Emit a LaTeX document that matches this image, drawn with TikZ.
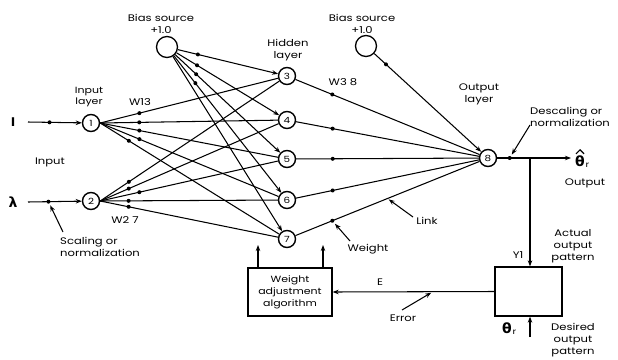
\documentclass[tikz,border=0pt]{standalone}
\usepackage{fontspec}
\setmainfont{Poppins}[FakeStretch=1.22]
\newfontfamily\gr{DejaVu Sans}
\usetikzlibrary{arrows.meta}
\begin{document}
\begin{tikzpicture}[x=1pt,y=-1pt,
  neuron/.style={circle,draw,line width=1.4pt,minimum size=17pt,inner sep=0pt,font=\fontsize{8.5}{9}\selectfont},
  biasnode/.style={circle,draw,line width=1.3pt,minimum size=21pt,inner sep=0pt},
  lbl/.style={font=\fontsize{9.5}{12}\selectfont,inner sep=0pt,align=center},
  link/.style={line width=1.05pt},
  arr/.style={line width=1.05pt,-{Stealth[length=6pt,width=4.5pt]}},
  dot/.style={circle,fill,inner sep=0pt,minimum size=4pt},
  boxnode/.style={draw,line width=1.3pt,inner sep=0pt},
  greek/.style={font=\gr\bfseries\fontsize{14}{14}\selectfont,inner sep=0pt}
]
\useasboundingbox (0,0) rectangle (618,359);
\fill[white] (0,0) rectangle (618,359);

% neurons
\node[neuron] (n1) at (91,123) {1};
\node[neuron] (n2) at (91,201) {2};
\node[neuron] (h3) at (287,76) {3};
\node[neuron] (h4) at (287,120) {4};
\node[neuron] (h5) at (287,159) {5};
\node[neuron] (h6) at (287,200) {6};
\node[neuron] (h7) at (287,239) {7};
\node[neuron] (n8) at (488,158) {8};
\node[biasnode] (b1) at (167,47) {};
\node[biasnode] (b2) at (366,46) {};

% inputs
\node[font=\gr\bfseries\fontsize{12}{12}\selectfont,inner sep=0pt] (inI) at (13,122) {I};
\node[greek] (inL) at (13,202) {λ};
\coordinate (iS) at (28,122);
\coordinate (lS) at (28,202);
\draw[arr] (iS) -- node[dot,pos=0.4] (idot) {} (n1);
\draw[arr] (lS) -- node[dot,pos=0.38] (ldot) {} (n2);

% input -> hidden
\foreach \h/\p in {3/0.22,4/0.22,5/0.22,6/0.22,7/0.16}
  \draw[link] (n1.east) -- node[dot,pos=\p]{} (h\h);
\foreach \h/\p in {3/0.16,4/0.16,5/0.22,6/0.16,7/0.16}
  \draw[link] (n2.east) -- node[dot,pos=\p]{} (h\h);

% bias 1 -> hidden
\foreach \h in {3,4,5,6}
  \draw[arr] (b1) -- node[dot,pos=0.2]{} (h\h);
\draw[arr] (b1) -- (h7);

% hidden -> output
\foreach \h in {3,4,5,6}
  \draw[link] (h\h) -- node[dot,pos=0.2]{} (n8);
\draw[link] (h7) -- node[dot,pos=0.2] (wdot) {} coordinate[pos=0.5] (lkpt) (n8);
\draw[arr] (b2) -- node[dot,pos=0.11]{} (n8);

% output
\node[boxnode,minimum width=67pt,minimum height=49pt] (cmp) at (528.5,291.5) {};
\coordinate (br) at (530,158);
\coordinate (oE) at (571,158);
\draw[link] (n8) -- node[dot,pos=0.38] (odot) {} (br);
\draw[arr] (br) -- (oE);
\draw[arr] (br) -- (br |- cmp.north);
\node[greek] (th1) at (580,161) {θ};
\node[anchor=south west,inner sep=0pt,font=\fontsize{8}{8}\selectfont] (th1r) at ([xshift=0.5pt,yshift=-1pt]th1.south east) {r};
\draw[line width=1.2pt] ([xshift=-4pt,yshift=1.5pt]th1.north) -- ([yshift=5.5pt]th1.north) -- ([xshift=4pt,yshift=1.5pt]th1.north);

\node[greek] (th2) at (507,328) {θ};
\node[anchor=south west,inner sep=0pt,font=\fontsize{8}{8}\selectfont] (th2r) at ([xshift=0.5pt,yshift=-1pt]th2.south east) {r};
\coordinate (tS) at (530,337);
\draw[arr] (tS) -- (tS |- cmp.south);

% weight adjustment
\node[boxnode,minimum width=84pt,minimum height=48pt,align=center,font=\fontsize{9}{12}\selectfont] (wbox) at (290,292) {Weight\\adjustment\\algorithm};
\draw[arr] (cmp.west) -- coordinate[pos=0.38] (epoint) (wbox.east);
\coordinate (wa1) at (258,245);
\coordinate (wa2) at (323,245);
\draw[arr] (wbox.north -| wa1) -- (wa1);
\draw[arr] (wbox.north -| wa2) -- (wa2);

% labels
\node[lbl] (tb1) at (161,23.5) {Bias source\\+1.0};
\node[lbl] (tb2) at (362,23.5) {Bias source\\+1.0};
\node[lbl] (thid) at (288,50) {Hidden\\layer};
\node[lbl,font=\fontsize{9}{11}\selectfont] (tinl) at (89,97.5) {Input\\layer};
\node[lbl] (tout) at (479,94) {Output\\layer};
\node[lbl] (tw13) at (140,102) {W13};
\node[lbl] (tw27) at (125,220) {W2 7};
\node[lbl] (tw38) at (343,82) {W3 8};
\node[lbl] (tin) at (50,162) {Input};
\node[lbl,align=left,anchor=west] (tdesc) at (530,117) {Descaling or\\normalization};
\node[lbl,align=left,anchor=west] (tscal) at (60,247) {Scaling or\\normalization};
\node[lbl] (toutp) at (585,183) {Output};
\node[lbl] (tlink) at (427,221) {Link};
\node[lbl] (tweight) at (368,249) {Weight};
\node[lbl] (tE) at (380,282) {E};
\node[lbl] (terr) at (403,318) {Error};
\node[lbl] (tY) at (518,255) {Y1};
\node[lbl] (tact) at (573,246) {Actual\\output\\pattern};
\node[lbl] (tdes) at (573,340) {Desired\\output\\pattern};

% annotation arrows
\coordinate (aS) at (63,232);
\draw[arr,shorten >=1.5pt] (aS) -- (ldot);
\coordinate (aD) at (530,125);
\draw[arr,shorten >=1.5pt] (aD) -- (odot);
\coordinate (aL) at (413,217);
\draw[arr,shorten >=1.5pt] (aL) -- (lkpt);
\coordinate (aW) at (350,241);
\draw[arr,shorten >=1.5pt] (aW) -- (wdot);
\coordinate (aE) at (402,310);
\draw[arr,shorten >=2pt] (aE) -- (epoint);
\end{tikzpicture}
\end{document}
